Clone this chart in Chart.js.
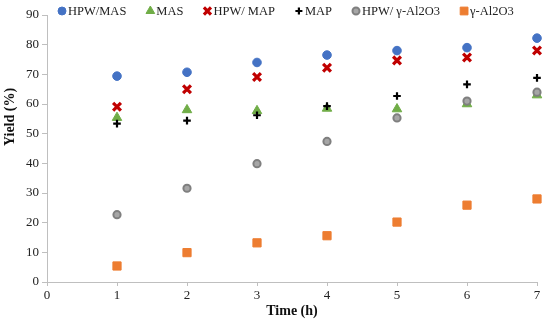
<!DOCTYPE html>
<html><head><meta charset="utf-8">
<script src="https://cdn.jsdelivr.net/npm/chart.js@4/dist/chart.umd.min.js"></script>
<style>html,body{margin:0;padding:0;background:#fff}#wrap{width:550px;height:320px}</style>
</head><body><div id="wrap"><canvas id="c" width="550" height="320"></canvas></div>
<script>
const times = [1, 2, 3, 4, 5, 6, 7];
const seriesNames = ["HPW/MAS", "MAS", "HPW/ MAP", "MAP", "HPW/ γ-Al2O3", "γ-Al2O3"];
const hpwMas   = [69.4, 70.7, 74.0, 76.5, 78.0, 79.0, 82.2];
const mas      = [55.4, 58.0, 57.7, 58.5, 58.3, 60.0, 63.0];
const hpwMap   = [59.1, 65.0, 69.1, 72.2, 74.7, 75.7, 78.0];
const map      = [53.4, 54.4, 56.2, 59.3, 62.7, 66.6, 68.8];
const hpwAl2o3 = [22.7, 31.6, 39.9, 47.4, 55.3, 61.0, 64.0];
const al2o3    = [5.4, 9.9, 13.2, 15.6, 20.2, 25.9, 28.0];
const xTicks = [0, 1, 2, 3, 4, 5, 6, 7];
const yTicks = [0, 10, 20, 30, 40, 50, 60, 70, 80, 90];
const xTitle = 'Time (h)';
const yTitle = 'Yield (%)';

const values = [hpwMas, mas, hpwMap, map, hpwAl2o3, al2o3];
const styles = [
  {pointStyle:'circle', backgroundColor:'#4472c4', borderColor:'#4472c4', borderWidth:1, radius:4.3, lr:4},
  {pointStyle:'triangle', backgroundColor:'#70ad47', borderColor:'#70ad47', borderWidth:1, radius:5.5, lr:5},
  {pointStyle:'crossRot', backgroundColor:'#c00000', borderColor:'#c00000', borderWidth:3.2, radius:5.5, lr:5},
  {pointStyle:'cross', backgroundColor:'#000000', borderColor:'#000000', borderWidth:2.2, radius:3.8, lr:3.5},
  {pointStyle:'circle', backgroundColor:'#a6a6a6', borderColor:'#7f7f7f', borderWidth:2, radius:3.6, lr:3.5},
  {pointStyle:'rect', backgroundColor:'#ed7d31', borderColor:'#ed7d31', borderWidth:1, radius:5.8, lr:5.5}
];
const datasets = seriesNames.map((n, i) => ({
  label: n,
  data: times.map((t, j) => ({x: t, y: values[i][j]})),
  showLine: false,
  clip: false,
  order: seriesNames.length - i,
  pointStyle: styles[i].pointStyle,
  pointRadius: styles[i].radius,
  pointHoverRadius: styles[i].radius,
  pointBackgroundColor: styles[i].backgroundColor,
  pointBorderColor: styles[i].borderColor,
  pointBorderWidth: styles[i].borderWidth,
  backgroundColor: styles[i].backgroundColor,
  borderColor: styles[i].borderColor
}));

const FONT = "'Liberation Serif', 'Times New Roman', serif";

const legendPlugin = {
  id: 'customLegend',
  afterDraw(chart) {
    const ctx = chart.ctx;
    ctx.save();
    ctx.font = "12.5px " + FONT;
    ctx.textBaseline = 'middle';
    let x = 58;
    const y = 11;
    seriesNames.forEach((n, i) => {
      const s = styles[i];
      ctx.fillStyle = s.backgroundColor;
      ctx.strokeStyle = s.borderColor;
      ctx.lineWidth = s.borderWidth;
      Chart.helpers.drawPoint(ctx, {pointStyle: s.pointStyle, radius: s.lr, rotation: 0, borderWidth: s.borderWidth}, x + 4, y);
      ctx.fillStyle = '#222';
      ctx.fillText(n, x + 10, y + 1);
      x += 10 + ctx.measureText(n).width + 20;
    });
    // y axis title
    ctx.font = "bold 14px " + FONT;
    ctx.fillStyle = '#111';
    ctx.textAlign = 'center';
    ctx.translate(10, 117);
    ctx.rotate(-Math.PI / 2);
    ctx.fillText(yTitle, 0, 0);
    ctx.restore();
  }
};

new Chart(document.getElementById('c'), {
  type: 'scatter',
  data: { datasets },
  plugins: [legendPlugin],
  options: {
    responsive: false,
    animation: false,
    devicePixelRatio: 1,
    layout: { padding: { top: 15, right: 13, left: 0, bottom: 0 } },
    plugins: { legend: { display: false }, tooltip: { enabled: false } },
    scales: {
      x: {
        type: 'linear', min: 0, max: 7,
        afterBuildTicks: s => { s.ticks = xTicks.map(v => ({value: v})); },
        afterFit: s => { s.height = 38; },
        border: { color: '#bfbfbf', width: 1 },
        grid: { display: true, drawOnChartArea: false, drawTicks: true, tickLength: 4, color: '#bfbfbf' },
        ticks: { color: '#222', font: { family: FONT, size: 13 }, padding: 2 },
        title: { display: true, text: xTitle, color: '#111', font: { family: FONT, size: 14, weight: 'bold' }, padding: { top: 2, bottom: 0 } }
      },
      y: {
        type: 'linear', min: 0, max: 90,
        afterBuildTicks: s => { s.ticks = yTicks.map(v => ({value: v})); },
        afterFit: s => { s.width = 47; },
        border: { color: '#bfbfbf', width: 1 },
        grid: { display: true, drawOnChartArea: false, drawTicks: true, tickLength: 5, color: '#bfbfbf' },
        ticks: { color: '#222', font: { family: FONT, size: 13 }, padding: 3 },
        title: { display: false }
      }
    }
  }
});
</script></body></html>
